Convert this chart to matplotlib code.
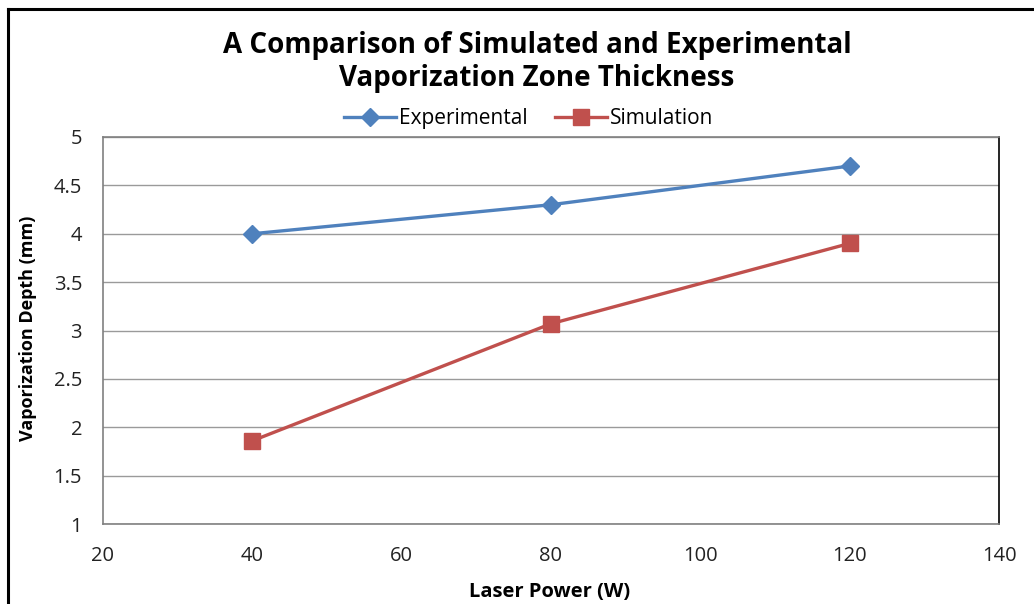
import matplotlib.pyplot as plt
from matplotlib.lines import Line2D

plt.rcParams['font.family'] = ['Open Sans', 'DejaVu Sans']

# laser power settings and measured / simulated depths
power = [40, 80, 120]
experimental = [4.0, 4.3, 4.7]
simulation = [1.86, 3.07, 3.9]

x_ticks = [20, 40, 60, 80, 100, 120, 140]
y_ticks = [1, 1.5, 2, 2.5, 3, 3.5, 4, 4.5, 5]
y_ticklabels = ['1', '1.5', '2', '2.5', '3', '3.5', '4', '4.5', '5']

W, H = 1034, 604
fig = plt.figure(figsize=(W / 100, H / 100), dpi=100)
fig.patch.set_facecolor('white')

# chart frame (top and left edges visible)
fig.add_artist(Line2D([8 / W, 1], [1 - 9 / H, 1 - 9 / H], color='black', lw=2.2))
fig.add_artist(Line2D([8 / W, 8 / W], [0, 1 - 9 / H], color='black', lw=2.2))

ax = fig.add_axes([103 / W, 1 - 524 / H, (999 - 103) / W, (524 - 137) / H])

ax.plot(power, experimental, color='#4F81BD', lw=2.4, marker='D', markersize=9.5,
        label='Experimental', zorder=3)
ax.plot(power, simulation, color='#C0504D', lw=2.4, marker='s', markersize=12,
        label='Simulation', zorder=3)

ax.set_xlim(20, 140)
ax.set_ylim(1, 5)
ax.set_xticks(x_ticks)
ax.set_yticks(y_ticks)
ax.set_yticklabels(y_ticklabels)
ax.tick_params(axis='both', length=0, labelsize=14.5, colors='#222222')
ax.tick_params(axis='x', pad=16)
ax.tick_params(axis='y', pad=15)

ax.yaxis.grid(True, color='#9A9A9A', lw=1)
ax.set_axisbelow(True)
for side in ['left', 'top', 'bottom']:
    ax.spines[side].set_color('#808080')
    ax.spines[side].set_linewidth(1.2)
ax.spines['right'].set_color('black')
ax.spines['right'].set_linewidth(1.2)

fig.text(28 / W, 1 - 328 / H, 'Vaporization Depth (mm)', rotation=90, ha='center', va='center',
         fontsize=13, fontweight='bold')
fig.text(550 / W, 1 - 592 / H, 'Laser Power (W)', ha='center', va='center',
         fontsize=14.5, fontweight='bold')

fig.text(537 / W, 1 - 62 / H, 'A Comparison of Simulated and Experimental\nVaporization Zone Thickness',
         ha='center', va='center', fontsize=20, fontweight='bold', linespacing=1.2)

ax.legend(loc='center', bbox_to_anchor=(529 / W, 1 - 119 / H), bbox_transform=fig.transFigure,
          ncol=2, frameon=False, fontsize=15, handlelength=2.5, columnspacing=1.3,
          handletextpad=0.15, borderpad=0)

fig.savefig('out.png', dpi=100)
